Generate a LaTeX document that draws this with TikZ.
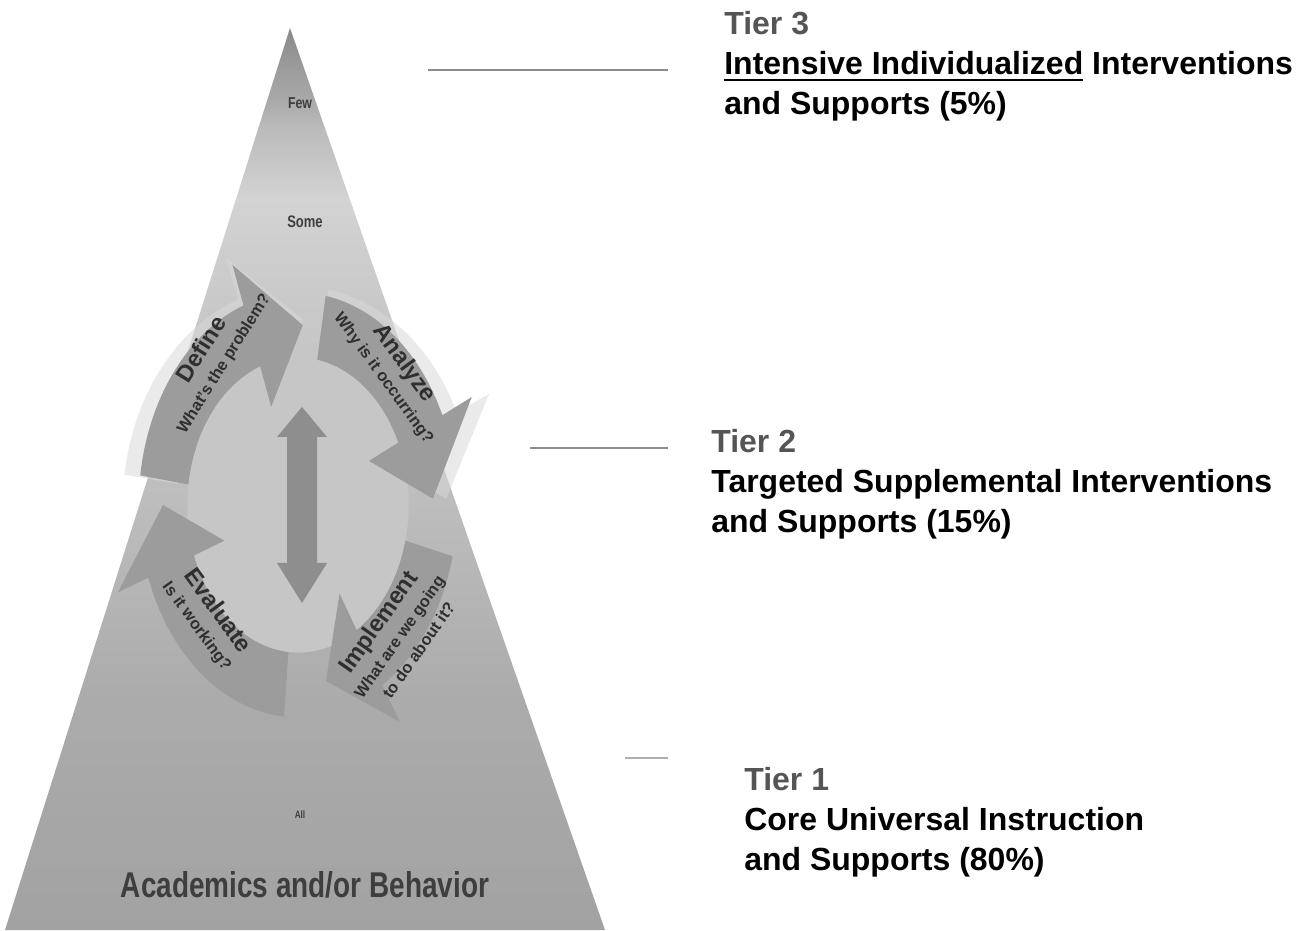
\documentclass[tikz,border=0pt]{standalone}
\usepackage{fontspec}
\setmainfont{Liberation Sans}
\newfontfamily\narrowfont[FakeStretch=0.78]{Liberation Sans}
\usetikzlibrary{positioning}

\definecolor{tiergray}{HTML}{555555}
\definecolor{linegray}{HTML}{8C8C8C}
\definecolor{labelgray}{HTML}{3E3E3E}
\definecolor{stepgray}{HTML}{2F2F2F}
\definecolor{arrowgray}{HTML}{9C9C9C}
\definecolor{innergray}{HTML}{C6C6C6}
\definecolor{ghostgray}{HTML}{D8D8D8}
\definecolor{dblgray}{HTML}{8E8E8E}
\definecolor{pyrA}{HTML}{A2A2A2}
\definecolor{pyrB}{HTML}{ABABAB}
\definecolor{pyrC}{HTML}{BDBDBD}
\definecolor{pyrD}{HTML}{C9C9C9}
\definecolor{pyrE}{HTML}{D3D3D3}
\definecolor{pyrF}{HTML}{BCBCBC}
\definecolor{pyrG}{HTML}{A9A9A9}
\definecolor{pyrH}{HTML}{8A8A8A}

\pgfdeclareverticalshading{pyramidshade}{100bp}{color(0bp)=(pyrA); color(25bp)=(pyrA);
  color(37.7bp)=(pyrB); color(48.8bp)=(pyrC); color(59.9bp)=(pyrD); color(65.5bp)=(pyrE);
  color(69.3bp)=(pyrF); color(71bp)=(pyrG); color(75bp)=(pyrH); color(100bp)=(pyrH)}

\newcommand{\cyclearrow}[4]{%
  \fill[#1] (#2:1.18) arc[start angle=#2, end angle=#3, radius=1.18] -- (#3:1.42)
    -- (#4:1) -- (#3:0.58) -- (#3:0.82) arc[start angle=#3, end angle=#2, radius=0.82] -- cycle;}
\newcommand{\tierul}[1]{\setbox0=\hbox{#1}\rlap{\rule[-3.8pt]{\wd0}{1.4pt}}\box0\relax}

\begin{document}
\begin{tikzpicture}[x=0.02cm,y=0.02cm,
  tiertext/.style={anchor=north west,align=left,inner sep=0pt,
    font=\fontsize{18.2}{22.7}\selectfont\bfseries},
  tierline/.style={draw=linegray,line width=1.4pt},
  levellabel/.style={inner sep=0pt,text=labelgray,
    font=\fontsize{#1}{#1}\selectfont\narrowfont\bfseries},
  stepnote/.style={align=center,inner sep=0pt,text=stepgray,
    font=\fontsize{9.3}{13.5}\selectfont\bfseries}]

  \useasboundingbox (0,0) rectangle (1312,930);
  \shade[shading=pyramidshade] (5,0) -- (290,902) -- (605,0) -- cycle;

  \begin{scope}[shift={(298,425)},xscale=135,yscale=180]
    \begin{scope}[xscale=1.1,yscale=1.03]
      \cyclearrow{ghostgray,opacity=0.55}{172}{110}{88}
      \cyclearrow{ghostgray,opacity=0.55}{80}{25}{2}
    \end{scope}
    \fill[innergray] (0,0) circle (0.82);
    \cyclearrow{arrowgray}{172}{110}{88}
    \cyclearrow{arrowgray}{80}{25}{2}
    \cyclearrow{arrowgray}{-14}{-58}{-78}
    \cyclearrow{arrowgray}{265}{200}{180}
  \end{scope}

  \fill[dblgray] (302,523) -- (327,493) -- (317,493) -- (317,367) -- (327,367) -- (302,327)
    -- (277,367) -- (287,367) -- (287,493) -- (277,493) -- cycle;

  \node[stepnote,rotate=58] (define) at (212,574)
    {{\fontsize{13.5}{14}\selectfont Define}\\What's the problem?};
  \node[stepnote,rotate=-54] (analyze) at (395,560)
    {{\fontsize{13.5}{14}\selectfont Analyze}\\Why is it occurring?};
  \node[stepnote,rotate=55] (implement) at (397,295)
    {{\fontsize{13.5}{14}\selectfont Implement}\\What are we going\\to do about it?};
  \node[stepnote,rotate=-54] (evaluate) at (208,312)
    {{\fontsize{13.5}{14}\selectfont Evaluate}\\Is it working?};

  \node[levellabel=9] (few) at (300,827) {Few};
  \node[levellabel=9.5] (some) at (305,708) {Some};
  \node[levellabel=6] (all) at (300,115) {All};
  \node[levellabel=20.4,anchor=base] (domain) at (305,32) {Academics and/or Behavior};

  \coordinate (t3start) at (428,860);
  \coordinate (t3end) at (668,860);
  \coordinate (t2start) at (530,482);
  \coordinate (t2end) at (668,482);
  \coordinate (t1start) at (625,172);
  \coordinate (t1end) at (668,172);
  \draw[tierline] (t3start) -- (t3end);
  \draw[tierline] (t2start) -- (t2end);
  \draw[tierline,line width=1pt,draw=linegray!70] (t1start) -- (t1end);

  \node[tiertext] (tier3) at (724,919)
    {{\color{tiergray}Tier 3}\\\tierul{Intensive Individualized} Interventions\\and Supports (5\%)};
  \node[tiertext] (tier2) at (711,501)
    {{\color{tiergray}Tier 2}\\Targeted Supplemental Interventions\\and Supports (15\%)};
  \node[tiertext] (tier1) at (744,163)
    {{\color{tiergray}Tier 1}\\Core Universal Instruction\\and Supports (80\%)};
\end{tikzpicture}
\end{document}
